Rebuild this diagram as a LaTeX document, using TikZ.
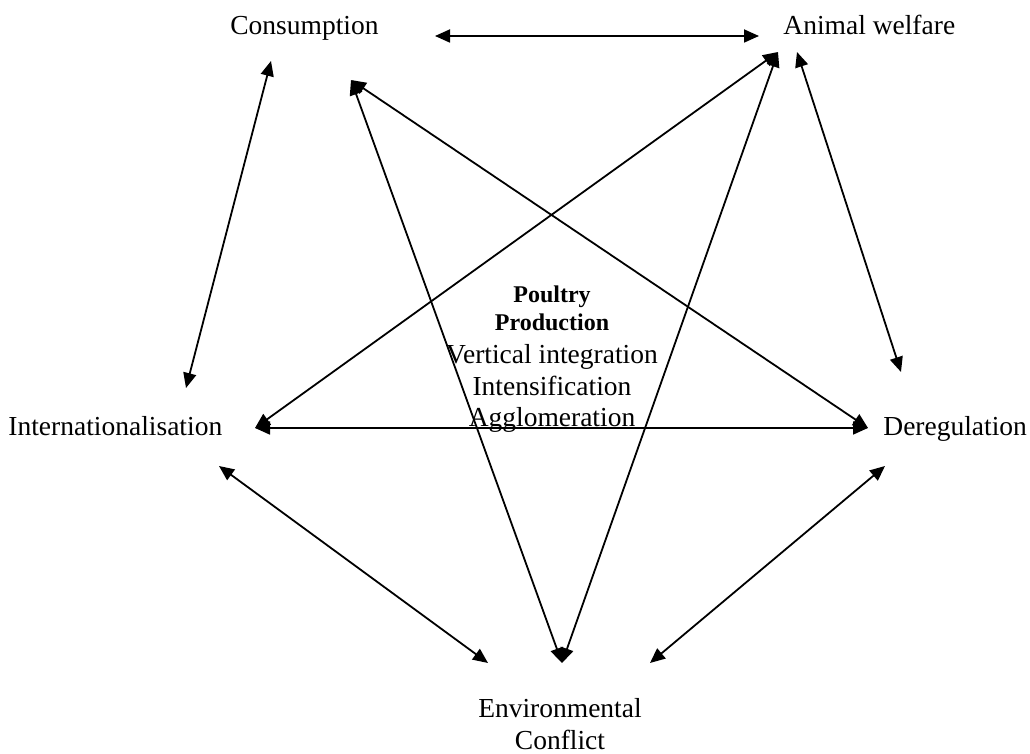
\documentclass[tikz,border=0pt]{standalone}
\usepackage{fontspec}
\setmainfont{Liberation Serif}
\usetikzlibrary{arrows.meta}
\begin{document}
\begin{tikzpicture}[x=0.5pt,y=-0.5pt,
  lbl/.style={inner sep=0pt, align=center, font=\fontsize{13.75pt}{15.8pt}\selectfont},
  hdr/.style={lbl, font=\fontsize{12pt}{14pt}\selectfont\bfseries},
  link/.style={{Triangle[length=7.5pt,width=6.5pt]}-{Triangle[length=7.5pt,width=6.5pt]}, line width=0.9pt}]
\useasboundingbox (0,0) rectangle (1030,754);

% the five forces
\node[lbl, anchor=base west] (cons)  at (230,35)  {Consumption};
\node[lbl, anchor=base west] (anim)  at (783,35)  {Animal welfare};
\node[lbl, anchor=base west] (intl)  at (8,436)   {Internationalisation};
\node[lbl, anchor=base west] (dereg) at (883,436) {Deregulation};
\node[lbl, anchor=north]     (env)   at (560,698) {Environmental\\Conflict};

% centre of the star
\node[hdr, anchor=north] (poul) at (552,285) {Poultry\\Production};
\node[lbl, anchor=north] (proc) at (552,344) {Vertical integration\\Intensification\\Agglomeration};

% arrow ends next to each label
\coordinate (consR) at (435,36);
\coordinate (consL) at (271,61);
\coordinate (consD) at (351,80);
\coordinate (animL) at (759,36);
\coordinate (animD) at (778,52);
\coordinate (animR) at (797,52);
\coordinate (intlU) at (186,388);
\coordinate (intlR) at (255,428);
\coordinate (intlD) at (219,466);
\coordinate (deregU) at (901,372);
\coordinate (deregL) at (868,428);
\coordinate (deregD) at (885,466);
\coordinate (envL) at (488,663);
\coordinate (envM) at (562,663);
\coordinate (envR) at (650,663);

% links between the forces
\draw[link] (consR) -- (animL);
\draw[link] (consL) -- (intlU);
\draw[link] (animR) -- (deregU);
\draw[link] (consD) -- (envM);
\draw[link] (consD) -- (deregL);
\draw[link] (animD) -- (intlR);
\draw[link] (animD) -- (envM);
\draw[link] (intlR) -- (deregL);
\draw[link] (intlD) -- (envL);
\draw[link] (deregD) -- (envR);
\end{tikzpicture}
\end{document}
